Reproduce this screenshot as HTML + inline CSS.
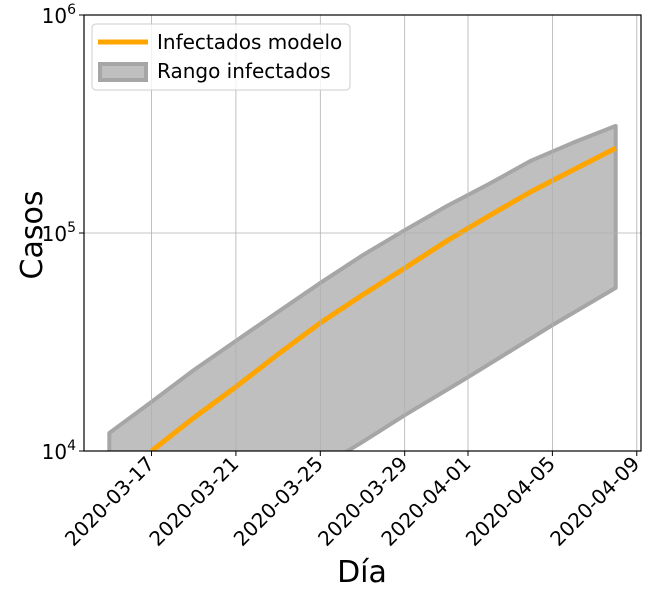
<!DOCTYPE html>
<html><head><meta charset="utf-8"><style>
body{margin:0;background:#fff;}
svg{display:block;font-family:"DejaVu Sans","Liberation Sans",sans-serif;}
</style></head><body>
<svg id="chart" width="651" height="594">
<defs><clipPath id="clip"><rect x="84" y="15" width="557" height="436"/></clipPath></defs>
<g id="series" clip-path="url(#clip)"></g>
<g id="grid"></g>
<rect x="84" y="15" width="557" height="436" fill="none" stroke="#000" stroke-width="1.2"/>
<g id="axes"></g>
<text x="42" y="235" font-size="30" text-anchor="middle" transform="rotate(-90 42 235)">Casos</text>
<text x="362" y="582" font-size="30" text-anchor="middle">Día</text>
<g>
<rect x="92" y="24" width="258" height="66" rx="4" fill="#fff" fill-opacity="0.8" stroke="#ccc"/>
<line x1="98" y1="42" x2="148" y2="42" stroke="#ffa500" stroke-width="5"/>
<text x="157" y="49" font-size="20">Infectados modelo</text>
<rect x="100" y="64" width="46" height="16" fill="#bfbfbf" stroke="#a6a6a6" stroke-width="4"/>
<text x="157" y="78" font-size="20">Rango infectados</text>
</g>
</svg>
<script>
// days since 2020-03-15
const modelDays=[2,4,6,8,10,12,14,16,18,20,22,24];
const modelVals=[1.0e4,1.42e4,1.97e4,2.78e4,3.87e4,5.2e4,6.9e4,9.2e4,1.2e5,1.55e5,1.95e5,2.45e5];
const upperDays=[0,2,4,6,8,10,12,14,16,18,20,22,24];
const upperVals=[1.21e4,1.68e4,2.35e4,3.2e4,4.35e4,5.9e4,7.9e4,1.03e5,1.33e5,1.68e5,2.15e5,2.6e5,3.1e5];
const lowerDays=[0,4,8,12,14,17,21,24];
const lowerVals=[2.0e3,3.6e3,6.4e3,1.1e4,1.46e4,2.18e4,3.78e4,5.6e4];
const tickDays=[2,6,10,14,17,21,25];
const tickLabels=["2020-03-17","2020-03-21","2020-03-25","2020-03-29","2020-04-01","2020-04-05","2020-04-09"];
const yTicks=[4,5,6];

const X0=84,X1=641,Y0=15,Y1=451,DMIN=-1.2,DMAX=25.2;
function xs(d){return X0+(d-DMIN)/(DMAX-DMIN)*(X1-X0);}
function ys(v){return Y1-(Math.log10(v)-4)/2*(Y1-Y0);}
const NS="http://www.w3.org/2000/svg";
function mk(tag,attrs,parent){const e=document.createElementNS(NS,tag);for(const k in attrs)e.setAttribute(k,attrs[k]);parent.appendChild(e);return e;}
const grid=document.getElementById('grid'),series=document.getElementById('series'),axes=document.getElementById('axes');

tickDays.forEach((d,i)=>{
 const x=xs(d);
 const g=mk('line',{x1:x,x2:x,y1:Y0,y2:Y1,stroke:'#b0b0b0','stroke-width':0.8},grid);
 
 
 mk('line',{x1:x,x2:x,y1:Y1,y2:Y1+5,stroke:'#000'},axes);
 const t=mk('text',{x:x+4,y:Y1+14,'font-size':20,'text-anchor':'end',transform:`rotate(-45 ${x+4} ${Y1+14})`},axes);
 t.textContent=tickLabels[i];
 
 
});
yTicks.forEach(p=>{
 const y=ys(Math.pow(10,p));
 const g=mk('line',{x1:X0,x2:X1,y1:y,y2:y,stroke:'#b0b0b0','stroke-width':0.8},grid);
 
 
 mk('line',{x1:X0-5,x2:X0,y1:y,y2:y,stroke:'#000'},axes);
 const t=mk('text',{x:X0-8,y:y+8,'font-size':20,'text-anchor':'end'},axes);
 t.innerHTML='10<tspan dy="-9" font-size="14">'+p+'</tspan>';
 
 
});

let pts=upperDays.map((d,i)=>xs(d)+','+ys(upperVals[i]));
for(let i=lowerDays.length-1;i>=0;i--)pts.push(xs(lowerDays[i])+','+ys(lowerVals[i]));
const band=mk('polygon',{points:pts.join(' '),fill:'#bfbfbf',stroke:'#a6a6a6','stroke-width':4,'stroke-linejoin':'round'},series);



const mp=modelDays.map((d,i)=>xs(d)+','+ys(modelVals[i])).join(' ');
const line=mk('polyline',{points:mp,fill:'none',stroke:'#ffa500','stroke-width':5,'stroke-linejoin':'round'},series);


</script>
</body></html>
